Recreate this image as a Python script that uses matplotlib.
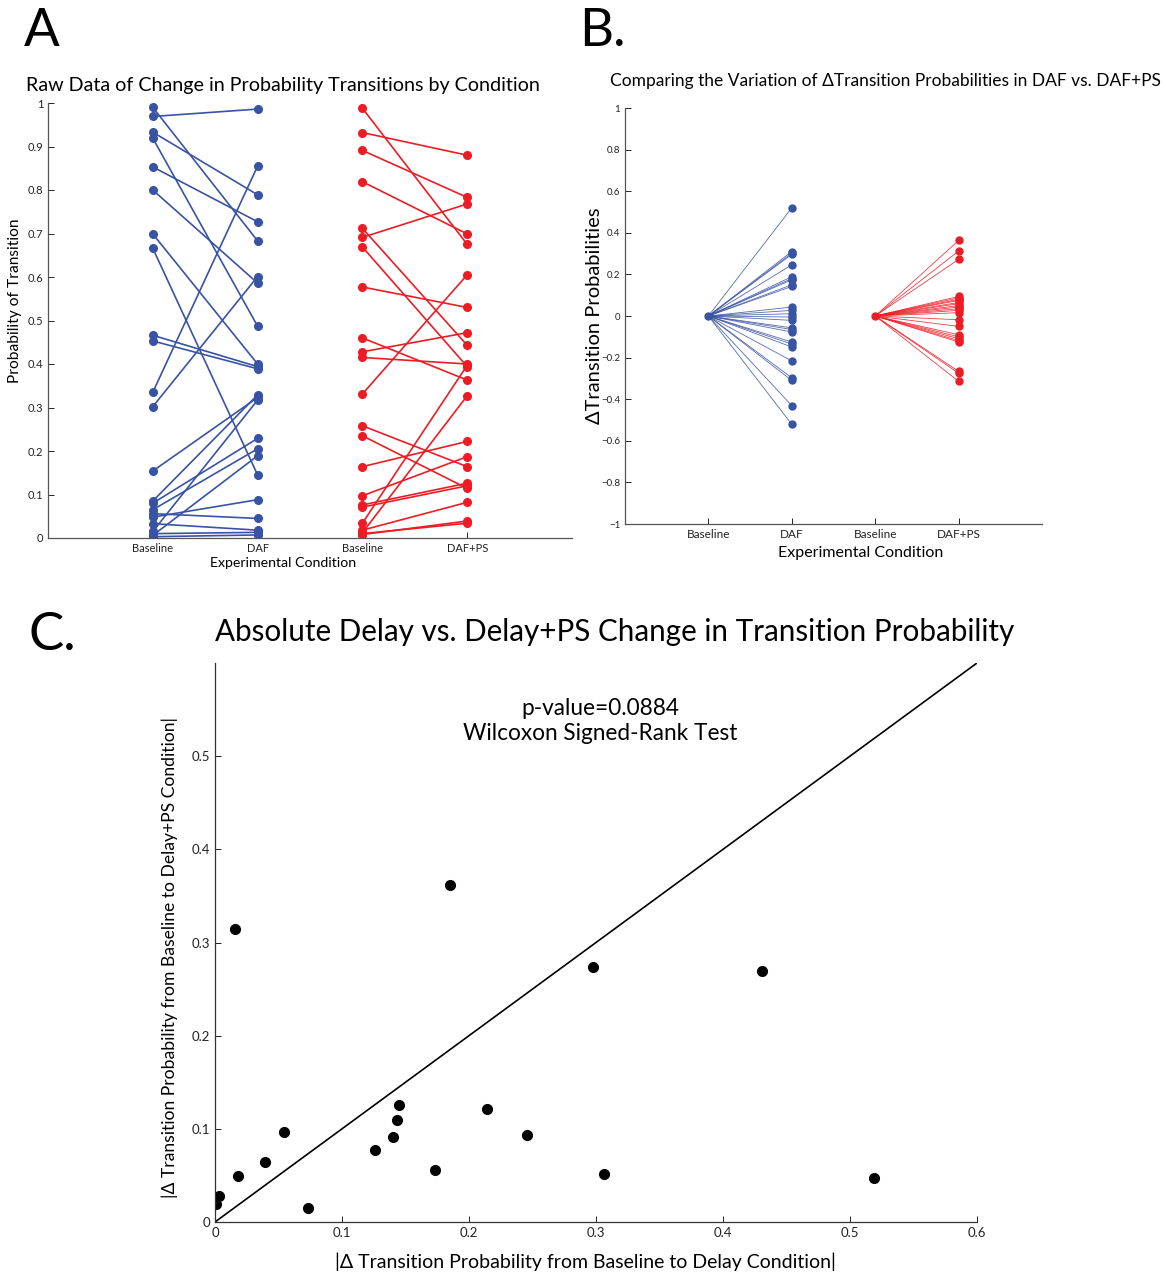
import matplotlib
matplotlib.use("Agg")
import matplotlib.pyplot as plt
import numpy as np

plt.rcParams['font.family'] = ['Lato', 'DejaVu Sans']

BLUE = '#3953A4'
RED = '#ED1C24'

# ---------------- Panel A data (baseline -> condition, paired) ----------------
conditions_A = ['Baseline', 'DAF', 'Baseline', 'DAF+PS']
daf_baseline = [0.990, 0.969, 0.933, 0.919, 0.853, 0.800, 0.699, 0.666, 0.466, 0.453,
                0.335, 0.302, 0.154, 0.085, 0.080, 0.065, 0.056, 0.048, 0.033, 0.015,
                0.010, 0.006, 0.003]
daf_values = [0.683, 0.986, 0.789, 0.487, 0.727, 0.586, 0.400, 0.145, 0.394, 0.389,
              0.855, 0.601, 0.323, 0.329, 0.229, 0.205, 0.045, 0.088, 0.018, 0.317,
              0.013, 0.189, 0.007]
ps_baseline = [0.988, 0.932, 0.891, 0.819, 0.712, 0.691, 0.669, 0.577, 0.460, 0.428,
               0.415, 0.331, 0.258, 0.235, 0.164, 0.097, 0.076, 0.071, 0.034, 0.018,
               0.012, 0.008, 0.010]
ps_values = [0.675, 0.880, 0.783, 0.699, 0.443, 0.768, 0.394, 0.530, 0.363, 0.472,
             0.400, 0.605, 0.164, 0.114, 0.222, 0.187, 0.126, 0.120, 0.397, 0.082,
             0.327, 0.039, 0.034]

# ---------------- Panel B data (change from baseline) ----------------
delta_daf = [0.520, 0.310, 0.302, 0.296, 0.246, 0.189, 0.180, 0.174, 0.150, 0.142,
             0.043, 0.027, 0.011, -0.005, -0.021, -0.057, -0.065, -0.077, -0.125,
             -0.135, -0.149, -0.216, -0.297, -0.310, -0.431, -0.521]
delta_ps = [0.363, 0.312, 0.272, 0.094, 0.087, 0.080, 0.075, 0.065, 0.059, 0.050,
            0.043, 0.035, 0.027, 0.016, -0.018, -0.050, -0.090, -0.100, -0.109,
            -0.118, -0.125, -0.266, -0.275, -0.314]

# ---------------- Panel C data (absolute changes) ----------------
abs_delay = [0.0005, 0.003, 0.016, 0.018, 0.039, 0.054, 0.073, 0.126, 0.140, 0.143,
             0.145, 0.173, 0.185, 0.214, 0.246, 0.298, 0.306, 0.431, 0.519]
abs_delay_ps = [0.019, 0.028, 0.314, 0.049, 0.064, 0.097, 0.015, 0.077, 0.091, 0.110,
                0.126, 0.056, 0.362, 0.121, 0.093, 0.274, 0.051, 0.269, 0.047]
p_value_text = 'p-value=0.0884'
test_text = 'Wilcoxon Signed-Rank Test'

W, H = 1166, 1273
fig = plt.figure(figsize=(W / 100, H / 100), dpi=100)


def rect(l, r, t, b):
    return [l / W, 1 - b / H, (r - l) / W, (b - t) / H]


def style_axes(ax, color='#555555'):
    for s in ['top', 'right']:
        ax.spines[s].set_visible(False)
    for s in ['left', 'bottom']:
        ax.spines[s].set_color(color)
        ax.spines[s].set_linewidth(0.9)
    ax.tick_params(direction='in', length=4, width=0.7, colors='#222222', labelsize=7.5)


# ---------------- Panel A ----------------
A_l, A_r, A_t, A_b = 48, 572, 103, 538
axA = fig.add_axes(rect(A_l, A_r, A_t, A_b))
style_axes(axA)
xA = [1, 2, 3, 4]
for b, v in zip(daf_baseline, daf_values):
    axA.plot([xA[0], xA[1]], [b, v], '-o', color=BLUE, lw=1.2, ms=5.5, mec=BLUE)
for b, v in zip(ps_baseline, ps_values):
    axA.plot([xA[2], xA[3]], [b, v], '-o', color=RED, lw=1.2, ms=5.5, mec=RED)
axA.set_xlim(0, 5)
axA.set_ylim(0, 1)
axA.set_xticks(xA)
axA.set_xticklabels(conditions_A, fontsize=8)
yt = np.round(np.arange(0, 1.01, 0.1), 1)
axA.set_yticks(yt)
axA.set_yticklabels(['0' if t == 0 else ('1' if t == 1 else f'{t:g}') for t in yt], fontsize=8)
fig.text(283 / W, 1 - 86 / H, 'Raw Data of Change in Probability Transitions by Condition',
         fontsize=14.2, ha='center', va='center')
axA.set_xlabel('Experimental Condition', fontsize=10.2)
axA.xaxis.set_label_coords((283 - A_l) / (A_r - A_l), -(563 - A_b) / (A_b - A_t))
axA.xaxis.label.set_va('center')
axA.set_ylabel('Probability of Transition', fontsize=11.2)
axA.yaxis.set_label_coords(-(48 - 15) / (A_r - A_l), (A_b - 301) / (A_b - A_t))
axA.yaxis.label.set_va('center')

# ---------------- Panel B ----------------
B_l, B_r, B_t, B_b = 625, 1042, 108, 524
axB = fig.add_axes(rect(B_l, B_r, B_t, B_b))
style_axes(axB)
for d in delta_daf:
    axB.plot([1, 2], [0, d], '-', color=BLUE, lw=0.6, alpha=0.85)
axB.plot([2] * len(delta_daf), delta_daf, 'o', color=BLUE, ms=5)
axB.plot([1], [0], 'o', color=BLUE, ms=5)
for d in delta_ps:
    axB.plot([3, 4], [0, d], '-', color=RED, lw=0.6, alpha=0.85)
axB.plot([4] * len(delta_ps), delta_ps, 'o', color=RED, ms=5)
axB.plot([3], [0], 'o', color=RED, ms=5)
axB.set_xlim(0, 5)
axB.set_ylim(-1, 1)
axB.set_xticks(xA)
axB.set_xticklabels(conditions_A, fontsize=8.5)
ytB = np.round(np.arange(-1, 1.01, 0.2), 1)
axB.set_yticks(ytB)
axB.set_yticklabels([('1' if t == 1 else ('\u22121' if t == -1 else ('0' if t == 0 else f'{t:g}'.replace('-', '\u2212')))) for t in ytB], fontsize=7)
axB.set_xlabel('Experimental Condition', fontsize=11.5)
axB.xaxis.set_label_coords((861 - B_l) / (B_r - B_l), -(553 - B_b) / (B_b - B_t))
axB.xaxis.label.set_va('center')
axB.set_ylabel('\u0394Transition Probabilities', fontsize=14.5)
axB.yaxis.set_label_coords(-(B_l - 594) / (B_r - B_l), 0.5)
axB.yaxis.label.set_va('center')
fig.text(610 / W, 1 - 81 / H, 'Comparing the Variation of \u0394Transition Probabilities in DAF vs. DAF+PS',
         fontsize=12.5, ha='left', va='center')

# ---------------- Panel C ----------------
C_l, C_r, C_t, C_b = 215, 977, 663, 1222
axC = fig.add_axes(rect(C_l, C_r, C_t, C_b))
style_axes(axC, color='#333333')
axC.plot([0, 0.6], [0, 0.6], '-', color='black', lw=1.2)
axC.plot(abs_delay, abs_delay_ps, 'o', color='black', ms=7)
axC.set_xlim(0, 0.6)
axC.set_ylim(0, 0.6)
axC.set_xticks(np.round(np.arange(0, 0.61, 0.1), 1))
axC.set_xticklabels(['0', '0.1', '0.2', '0.3', '0.4', '0.5', '0.6'], fontsize=9.5)
axC.set_yticks(np.round(np.arange(0, 0.51, 0.1), 1))
axC.set_yticklabels(['0', '0.1', '0.2', '0.3', '0.4', '0.5'], fontsize=9.5)
fig.text(615 / W, 1 - 632 / H, 'Absolute Delay vs. Delay+PS Change in Transition Probability',
         fontsize=21.3, ha='center', va='center')
axC.set_xlabel('|\u0394 Transition Probability from Baseline to Delay Condition|', fontsize=14)
axC.xaxis.set_label_coords((585 - C_l) / (C_r - C_l), -(1262 - C_b) / (C_b - C_t))
axC.xaxis.label.set_va('center')
axC.set_ylabel('|\u0394 Transition Probability from Baseline to Delay+PS Condition|', fontsize=12.6)
axC.yaxis.set_label_coords(-(C_l - 170) / (C_r - C_l), (C_b - 957) / (C_b - C_t))
axC.yaxis.label.set_va('center')
axC.text((600 - C_l) / (C_r - C_l), (C_b - 721) / (C_b - C_t), p_value_text + '\n' + test_text,
         transform=axC.transAxes, ha='center', va='center', fontsize=16.3, linespacing=1.25)

# Panel letters
fig.text(42 / W, 1 - 32 / H, 'A', fontsize=38, ha='center', va='center')
fig.text(602 / W, 1 - 32 / H, 'B.', fontsize=38, ha='center', va='center')
fig.text(52 / W, 1 - 635 / H, 'C.', fontsize=38, ha='center', va='center')

fig.savefig('out.png', dpi=100)
